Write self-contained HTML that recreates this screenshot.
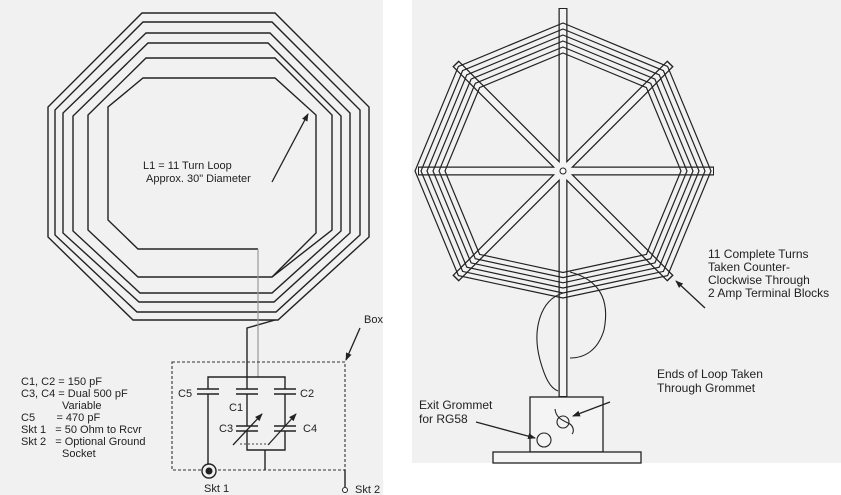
<!DOCTYPE html>
<html><head><meta charset="utf-8"><style>
html,body{margin:0;padding:0;background:#fff;width:841px;height:495px;overflow:hidden}
svg{display:block}
text{font-family:"Liberation Sans",sans-serif;fill:#222}
</style></head><body>
<svg width="841" height="495" viewBox="0 0 841 495" xmlns="http://www.w3.org/2000/svg">
<rect x="0" y="0" width="383" height="495" fill="#f1f1f1"/>
<rect x="412" y="0" width="429" height="463" fill="#f1f1f1"/>
<defs><marker id="ah" markerWidth="8" markerHeight="8" refX="7" refY="4" orient="auto" markerUnits="userSpaceOnUse"><path d="M0,1 L8,4 L0,7 z" fill="#222"/></marker></defs>

<!-- LEFT: spiral loop -->
<g fill="none" stroke="#222" stroke-width="1.4">
<polygon points="142,13 275,13 369,107 369,237 278,320 133,320 48,237 48,107"/>
<polygon points="143,22 272,22 360,110 360,235 276,312 137,312 55,235 55,110"/>
<polygon points="146,33 270,33 350,113 350,233 274,302 139,302 63,233 63,113"/>
<polygon points="148,43 268,43 341,116 341,231 272,293 140,293 73,231 73,116"/>
<polygon points="146,58 275,58 332,115 332,230 272,277 138,277 88,230 88,115"/>
<polyline points="258,249 138,249 108,220 108,107 143,78 275,78 316,115 316,233 272,277"/>
<polyline points="275,320 247,328 247,377"/>
</g>
<line x1="258" y1="249" x2="258" y2="377" stroke="#999" stroke-width="1.2"/>
<text x="143" y="169" font-size="11">L1 = 11 Turn Loop</text>
<text x="146" y="182" font-size="11">Approx. 30" Diameter</text>
<line x1="272" y1="182" x2="308" y2="114" stroke="#222" stroke-width="1.3" marker-end="url(#ah)"/>

<!-- Box -->
<rect x="172" y="362" width="173" height="108" fill="none" stroke="#333" stroke-width="1.1" stroke-dasharray="3,2"/>
<text x="364" y="323" font-size="11">Box</text>
<line x1="360" y1="328" x2="346" y2="360" stroke="#222" stroke-width="1.3" marker-end="url(#ah)"/>

<g stroke="#222" stroke-width="1.4" fill="none">
<polyline points="208,389 208,377 285,377 285,389"/>
<line x1="247" y1="377" x2="247" y2="389"/>
<line x1="197" y1="389" x2="219" y2="389"/><line x1="197" y1="394" x2="219" y2="394"/>
<line x1="236" y1="389" x2="258" y2="389"/><line x1="236" y1="394" x2="258" y2="394"/>
<line x1="274" y1="389" x2="296" y2="389"/><line x1="274" y1="394" x2="296" y2="394"/>
<line x1="208" y1="394" x2="208" y2="464"/>
<line x1="247" y1="394" x2="247" y2="426"/>
<line x1="285" y1="394" x2="285" y2="426"/>
<line x1="236" y1="426" x2="258" y2="426"/><line x1="236" y1="431" x2="258" y2="431"/>
<line x1="274" y1="426" x2="296" y2="426"/><line x1="274" y1="431" x2="296" y2="431"/>
<polyline points="247,431 247,450 285,450 285,431"/>
<line x1="265" y1="450" x2="265" y2="470"/>
<line x1="345" y1="470" x2="345" y2="487"/>
</g>
<line x1="233" y1="445" x2="262" y2="414" stroke="#222" stroke-width="1.3" marker-end="url(#ah)"/>
<line x1="268" y1="445" x2="296" y2="414" stroke="#222" stroke-width="1.3" marker-end="url(#ah)"/>
<line x1="240" y1="444" x2="272" y2="444" stroke="#444" stroke-width="1" stroke-dasharray="2,2"/>
<circle cx="209" cy="471" r="7" fill="#f1f1f1" stroke="#222" stroke-width="1.4"/>
<circle cx="209" cy="471" r="3.5" fill="#222"/>
<circle cx="345" cy="490" r="2.5" fill="#fff" stroke="#222" stroke-width="1"/>
<g font-size="11">
<text x="178" y="397">C5</text><text x="229" y="411">C1</text><text x="300" y="397">C2</text>
<text x="219" y="432">C3</text><text x="303" y="432">C4</text>
<text x="204" y="492">Skt 1</text><text x="355" y="493">Skt 2</text>
<text x="21" y="385">C1, C2 = 150 pF</text>
<text x="21" y="397">C3, C4 = Dual 500 pF</text>
<text x="62" y="409">Variable</text>
<text x="21" y="421">C5 &#160;&#160;&#160;&#160;&#160;&#160;= 470 pF</text>
<text x="21" y="433">Skt 1 &#160;&#160;= 50 Ohm to Rcvr</text>
<text x="21" y="445">Skt 2 &#160;&#160;= Optional Ground</text>
<text x="62" y="457">Socket</text>
</g>

<!-- RIGHT: antenna -->
<g stroke="#222" stroke-linecap="butt">
<line x1="455.5" y1="63.5" x2="670.5" y2="278.5" stroke-width="9"/>
<line x1="670.5" y1="63.5" x2="455.5" y2="278.5" stroke-width="9"/>
<line x1="418" y1="171" x2="714" y2="171" stroke-width="9"/>
<line x1="563" y1="8" x2="563" y2="397" stroke-width="9"/>
</g>
<g stroke="#f4f4f4" stroke-linecap="butt">
<line x1="456.5" y1="64.5" x2="669.5" y2="277.5" stroke-width="6.5"/>
<line x1="669.5" y1="64.5" x2="456.5" y2="277.5" stroke-width="6.5"/>
<line x1="419" y1="171" x2="713" y2="171" stroke-width="6.5"/>
<line x1="563" y1="9" x2="563" y2="396" stroke-width="6.5"/>
</g>
<g fill="none" stroke="#222" stroke-width="1.2">
<polygon points="563,53 646.4,87.6 681,171 646.4,254.4 563,272.5 479.6,254.4 445,171 479.6,87.6"/>
<polygon points="563,47 650.7,83.3 687,171 650.7,258.7 563,277.6 475.3,258.7 439,171 475.3,83.3"/>
<polygon points="563,41 654.9,79.1 693,171 654.9,262.9 563,282.8 471.1,262.9 433,171 471.1,79.1"/>
<polygon points="563,35 659.2,74.8 699,171 659.2,267.2 563,288 466.8,267.2 427,171 466.8,74.8"/>
<polygon points="563,29 663.4,70.6 705,171 663.4,271.4 563,293 462.6,271.4 421,171 462.6,70.6"/>
<polygon points="563,23 667.6,66.4 711,171 667.6,275.6 563,298 458.4,275.6 415,171 458.4,66.4"/>
</g>
<circle cx="563" cy="171" r="3" fill="#fff" stroke="#222" stroke-width="1"/>
<g fill="none" stroke="#222" stroke-width="1.1">
<path d="M570,272 C600,280 610,300 604,330 C598,350 585,358 570,358"/>
<path d="M563,293 C540,300 532,330 540,360 C545,378 550,388 558,391"/>
<rect x="530" y="397" width="73" height="55" fill="#f4f4f4" stroke-width="1.3"/>
<rect x="493" y="452" width="148" height="11" fill="#f4f4f4" stroke-width="1.3"/>
<circle cx="544" cy="440" r="7"/>
<circle cx="563" cy="422" r="6"/>
<path d="M555,409 C556,418 562,420 570,424 C574,427 574,432 572,434"/>
</g>
<line x1="476" y1="422" x2="535" y2="438" stroke="#222" stroke-width="1.3" marker-end="url(#ah)"/>
<line x1="610" y1="402" x2="573" y2="416" stroke="#222" stroke-width="1.3" marker-end="url(#ah)"/>
<line x1="705" y1="308" x2="676" y2="281" stroke="#222" stroke-width="1.3" marker-end="url(#ah)"/>
<g font-size="12">
<text x="708" y="258">11 Complete Turns</text>
<text x="708" y="271">Taken Counter-</text>
<text x="708" y="284">Clockwise Through</text>
<text x="708" y="297">2 Amp Terminal Blocks</text>
<text x="657" y="378">Ends of Loop Taken</text>
<text x="657" y="392">Through Grommet</text>
<text x="419" y="409">Exit Grommet</text>
<text x="419" y="423">for RG58</text>
</g>
</svg>
</body></html>
